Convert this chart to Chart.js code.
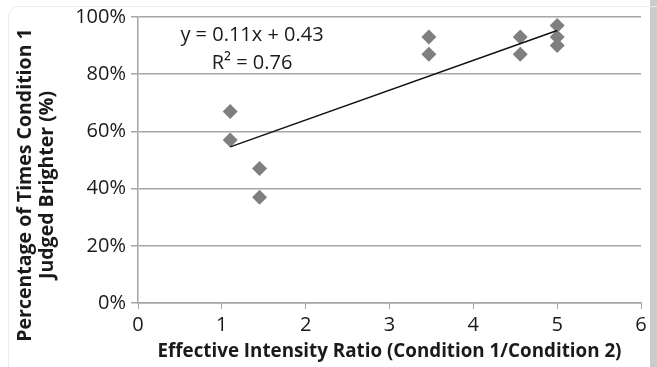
<!DOCTYPE html>
<html lang="en">
<head>
    <meta charset="UTF-8">
    <title>Intensity Ratio vs Judged Brighter</title>
    <style>
        body {
            margin: 0;
            background-color: #fff;
        }
        #wrap {
            position: relative;
            width: 657px;
            height: 367px;
        }
    </style>
    <script src="https://cdn.jsdelivr.net/npm/chart.js"></script>
</head>
<body>
    <div id="wrap"><canvas id="chart" width="657" height="367"></canvas></div>

    <script>
        // Observed values (effective intensity ratio vs % judged brighter)
        const ratios = [1.10, 1.10, 1.45, 1.45, 3.47, 3.47, 4.56, 4.56, 5.00, 5.00, 5.00];
        const percentBrighter = [67, 57, 47, 37, 93, 87, 93, 87, 97, 93, 90];

        // Linear trend line endpoints as drawn
        const trendX = [1.10, 5.00];
        const trendY = [54.6, 95.3];

        const equationText = 'y = 0.11x + 0.43';
        const r2Text = 'R\u00b2 = 0.76';

        const xTitle = 'Effective Intensity Ratio (Condition 1/Condition 2)';
        const yTitle = ['Percentage of Times Condition 1', 'Judged Brighter (%)'];

        const points = ratios.map((x, i) => ({ x: x, y: percentBrighter[i] }));
        const trend = trendX.map((x, i) => ({ x: x, y: trendY[i] }));

        const textFont = '"Open Sans", sans-serif';

        // frame, right strip, y title (centred on the whole chart box) and equation label
        const decor = {
            id: 'decor',
            beforeDraw(chart) {
                const ctx = chart.ctx;
                ctx.save();
                ctx.fillStyle = '#cbcbcb';
                ctx.fillRect(650, 0, 7, 367);
                ctx.strokeStyle = '#ececec';
                ctx.lineWidth = 1;
                ctx.beginPath();
                ctx.roundRect(8.5, 6.5, 660, 380, 10);
                ctx.stroke();
                ctx.restore();
            },
            afterDraw(chart) {
                const ctx = chart.ctx;
                ctx.save();
                ctx.translate(36, 185);
                ctx.rotate(-Math.PI / 2);
                ctx.fillStyle = '#1a1a1a';
                ctx.font = 'bold 19.5px ' + textFont;
                ctx.textAlign = 'center';
                ctx.textBaseline = 'middle';
                ctx.fillText(yTitle[0], 0, -11);
                ctx.fillText(yTitle[1], 0, 11);
                ctx.restore();
            },
            afterDatasetsDraw(chart) {
                const ctx = chart.ctx;
                const xs = chart.scales.x, ys = chart.scales.y;
                ctx.save();
                ctx.fillStyle = '#1a1a1a';
                ctx.font = '20px ' + textFont;
                ctx.textAlign = 'center';
                ctx.textBaseline = 'middle';
                ctx.fillText(equationText, xs.getPixelForValue(1.36), ys.getPixelForValue(93.6));
                ctx.fillText(r2Text, xs.getPixelForValue(1.36), ys.getPixelForValue(83.8));
                ctx.restore();
            }
        };

        new Chart(document.getElementById('chart'), {
            type: 'scatter',
            data: {
                datasets: [{
                    label: 'Observed',
                    data: points,
                    pointStyle: 'rectRot',
                    pointRadius: 7.5,
                    backgroundColor: '#7f7f7f',
                    borderColor: '#7f7f7f',
                    borderWidth: 0,
                    order: 2
                }, {
                    label: 'Linear fit',
                    type: 'line',
                    data: trend,
                    borderColor: '#111',
                    borderWidth: 1.5,
                    pointRadius: 0,
                    fill: false,
                    order: 1
                }]
            },
            options: {
                responsive: false,
                animation: false,
                layout: { padding: { left: 8, right: 16, top: 16, bottom: 4 } },
                plugins: {
                    legend: { display: false },
                    tooltip: { enabled: false }
                },
                scales: {
                    x: {
                        type: 'linear',
                        min: 0,
                        max: 6,
                        ticks: {
                            stepSize: 1,
                            padding: 4,
                            color: '#1a1a1a',
                            font: { family: textFont, size: 20 }
                        },
                        grid: {
                            drawOnChartArea: false,
                            drawTicks: true,
                            tickLength: 6,
                            color: '#a6a6a6'
                        },
                        border: { color: '#a6a6a6', width: 1.5 },
                        title: {
                            display: true,
                            text: xTitle,
                            color: '#1a1a1a',
                            padding: { top: 0, bottom: 0 },
                            font: { family: textFont, size: 18.8, weight: 'bold' }
                        },
                        afterFit(scale) { scale.height = 60; }
                    },
                    y: {
                        min: 0,
                        max: 100,
                        ticks: {
                            stepSize: 20,
                            padding: 5,
                            color: '#1a1a1a',
                            font: { family: textFont, size: 20 },
                            callback: v => v + '%'
                        },
                        grid: {
                            color: '#a6a6a6',
                            lineWidth: 1.5,
                            tickLength: 7
                        },
                        border: { color: '#a6a6a6', width: 1.5 },
                        title: { display: false },
                        afterFit(scale) { scale.width = 130; }
                    }
                }
            },
            plugins: [decor]
        });
    </script>
</body>
</html>
